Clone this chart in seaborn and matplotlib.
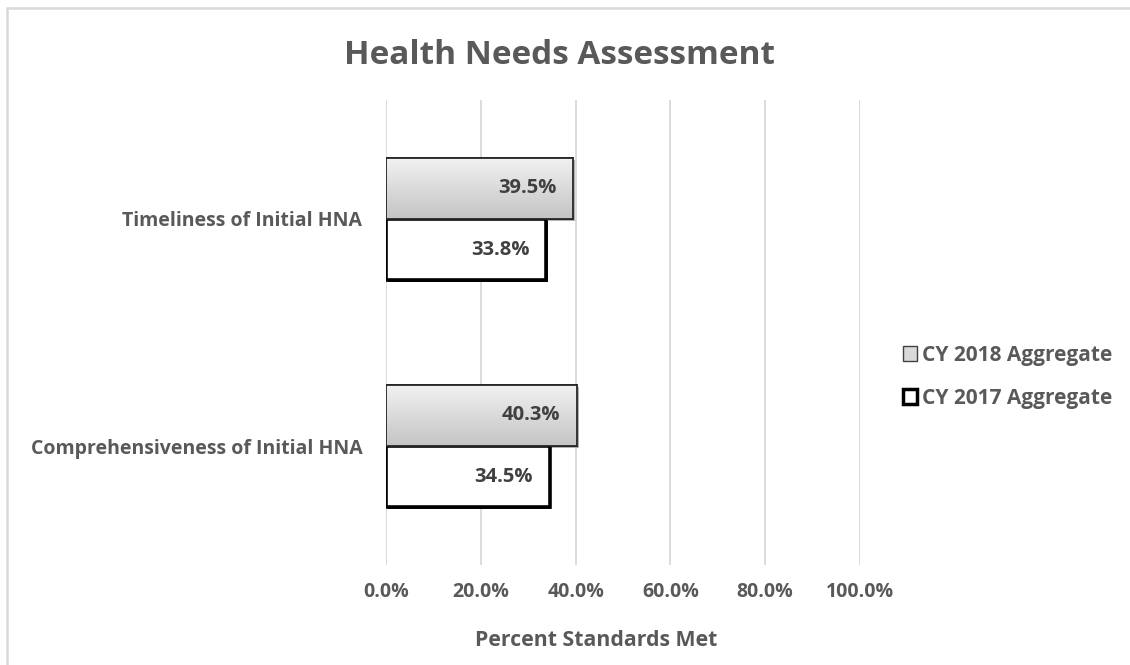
import numpy as np
import pandas as pd
import matplotlib
matplotlib.use("Agg")
import matplotlib.pyplot as plt
import seaborn as sns
from matplotlib.patches import Rectangle, Patch
from matplotlib.lines import Line2D
from matplotlib.ticker import FuncFormatter
import matplotlib.patheffects as pe

# Data
categories = ["Timeliness of Initial HNA", "Comprehensiveness of Initial HNA"]
series = ["CY 2018 Aggregate", "CY 2017 Aggregate"]
cy2018 = [39.5, 40.3]
cy2017 = [33.8, 34.5]
x_ticks = [0, 20, 40, 60, 80, 100]

df = pd.DataFrame({
    "category": categories * 2,
    "series": [series[0]] * 2 + [series[1]] * 2,
    "value": cy2018 + cy2017,
})

sns.set_theme(style="white")
FONT = ["Open Sans", "DejaVu Sans"]
plt.rcParams["font.family"] = FONT
plt.rcParams["font.weight"] = "bold"

TEXT = "#595959"
LABEL = "#404040"

fig = plt.figure(figsize=(11.3, 6.65), dpi=100)
ax = fig.add_axes([0.3416, 0.1504, 0.4195, 0.6992])

sns.barplot(
    data=df, y="category", x="value", hue="series",
    order=categories, hue_order=series,
    palette=["#d9d9d9", "white"], width=0.54, orient="h",
    legend=False, ax=ax, zorder=3,
)

bars = list(ax.patches)
n = len(categories)
bars_2018 = bars[:n]
bars_2017 = bars[n:]

shadow = [pe.SimplePatchShadow(offset=(1.5, -1.5), shadow_rgbFace="#7f7f7f", alpha=0.6), pe.Normal()]

# 2018 bars: vertical gray gradient with a thin dark outline
grad = np.linspace(0, 1, 256).reshape(-1, 1)
cmap = matplotlib.colors.LinearSegmentedColormap.from_list("g", ["#f2f2f2", "#c4c4c4"])
for b in bars_2018:
    x0, y0 = b.get_x(), b.get_y()
    w, h = b.get_width(), b.get_height()
    b.set_facecolor("#d9d9d9")
    b.set_edgecolor("#262626")
    b.set_linewidth(1.3)
    b.set_path_effects(shadow)
    im = ax.imshow(grad, cmap=cmap, aspect="auto",
                   extent=(x0, x0 + w, y0 + h, y0), zorder=3.5,
                   interpolation="bilinear")
    im.set_clip_path(b)
    outline = Rectangle((x0, y0), w, h, fill=False, edgecolor="#262626",
                        linewidth=1.3, zorder=4)
    ax.add_patch(outline)

# 2017 bars: white with heavy black outline
for b in bars_2017:
    b.set_facecolor("white")
    b.set_edgecolor("black")
    b.set_linewidth(2.6)
    b.set_path_effects([pe.SimplePatchShadow(offset=(1.2, -1.2), shadow_rgbFace="black", alpha=0.9), pe.Normal()])

# Value labels at the inside end of each bar
for b, v in zip(bars_2018 + bars_2017, cy2018 + cy2017):
    ax.annotate(f"{v:.1f}%", xy=(v, b.get_y() + b.get_height() / 2),
                xytext=(-12, 0), textcoords="offset points",
                ha="right", va="center", fontsize=14.5, fontweight="bold",
                color=LABEL, zorder=6)

ax.set_xlim(0, 100)
ax.set_ylim(1.524, -0.524)
ax.set_xticks(x_ticks)
ax.xaxis.set_major_formatter(FuncFormatter(lambda v, p: f"{v:.1f}%"))
ax.grid(axis="x", color="#d9d9d9", linewidth=1.3, zorder=0)
ax.grid(axis="y", visible=False)
for s in ax.spines.values():
    s.set_visible(False)
ax.tick_params(axis="x", length=0, pad=12, labelsize=14, labelcolor=TEXT)
ax.tick_params(axis="y", length=0, pad=17, labelsize=14, labelcolor=TEXT)
for t in ax.get_xticklabels() + ax.get_yticklabels():
    t.set_fontweight("bold")
ax.set_xlabel("")
ax.set_ylabel("")

fig.text(596 / 1130, 1 - 641 / 665, "Percent Standards Met", ha="center", va="center",
         fontsize=15.3, fontweight="bold", color=TEXT)
fig.text(560 / 1130, 1 - 55 / 665, "Health Needs Assessment", ha="center", va="center",
         fontsize=24, fontweight="bold", color=TEXT)

# Legend
handles = [
    Patch(facecolor="#d9d9d9", edgecolor="#404040", linewidth=1.0, label=series[0]),
    Patch(facecolor="white", edgecolor="black", linewidth=2.5, label=series[1]),
]
leg = fig.legend(handles=handles, loc="center left",
                 bbox_to_anchor=(884 / 1130, 1 - 377 / 665),
                 frameon=False, handlelength=0.7, handleheight=0.7,
                 handletextpad=0.2, labelspacing=1.05,
                 prop={"family": FONT, "weight": "bold", "size": 15})
for t in leg.get_texts():
    t.set_color(TEXT)

# Chart area border (left and top edges)
fig.add_artist(Line2D([7 / 1130, 7 / 1130], [0, 1 - 8 / 665], transform=fig.transFigure,
                      color="#d9d9d9", linewidth=1.8))
fig.add_artist(Line2D([7 / 1130, 1], [1 - 8 / 665, 1 - 8 / 665], transform=fig.transFigure,
                      color="#d9d9d9", linewidth=1.8))

fig.savefig("out.png", dpi=100)
